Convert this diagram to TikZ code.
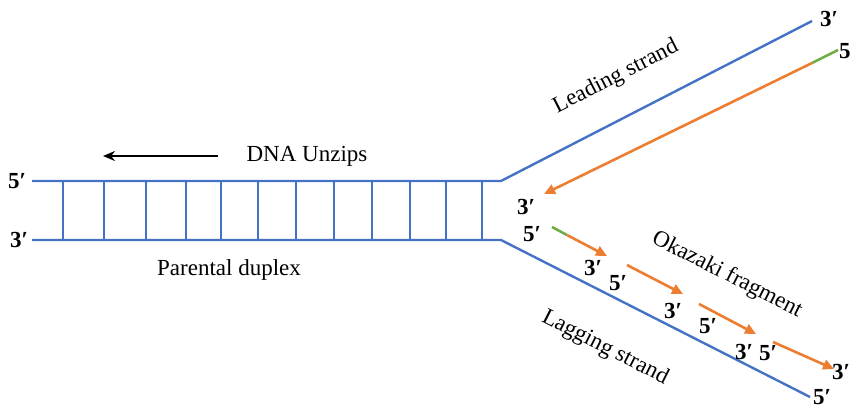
\documentclass[tikz,border=0pt]{standalone}
\usepackage{fontspec}
\setmainfont{Liberation Serif}
\usetikzlibrary{arrows.meta}
\definecolor{strandblue}{RGB}{68,114,196}
\definecolor{neworange}{RGB}{237,125,49}
\definecolor{primergreen}{RGB}{112,173,71}
\begin{document}
\begin{tikzpicture}[x=1pt,y=-1pt,
  strand/.style={draw=strandblue,line width=2.4pt},
  rung/.style={draw=strandblue,line width=2.2pt},
  newdna/.style={draw=neworange,line width=2.6pt,-{Triangle[length=11pt,width=10pt]}},
  primer/.style={draw=primergreen,line width=2.6pt},
  endlbl/.style={font=\fontsize{23}{26}\selectfont\bfseries,inner sep=0pt},
  caption/.style={font=\fontsize{23}{27}\selectfont,inner sep=0pt}]
\useasboundingbox (0,0) rectangle (851,405);
\clip (0,0) rectangle (851,405);

% parental duplex
\coordinate (t0) at (32,181);
\coordinate (b0) at (32,240);
\coordinate (tf) at (501,181);
\coordinate (bf) at (501,240);
\coordinate (tend) at (812,21);
\coordinate (bend) at (810,397);
\draw[strand] (t0) -- (tf) -- (tend);
\draw[strand] (b0) -- (bf) -- (bend);
\foreach \x in {63,104,146,186,221,258,296,334,372,410,446,482}
  \draw[rung] (\x,181) -- (\x,240);

\node[endlbl] (l5) at (17,181) {5′};
\node[endlbl] (l3) at (19,240) {3′};
\node[endlbl] (r3top) at (829,19) {3′};
\node[endlbl,anchor=west] (r5top) at (839,51) {5′};

% leading strand synthesis
\coordinate (lp0) at (838,50);
\coordinate (lp1) at (812,63);
\coordinate (lp2) at (544,194);
\draw[primer] (lp0) -- (lp1);
\draw[newdna] (lp1) -- (lp2);
\node[endlbl] (lead3) at (526,207) {3′};

% Okazaki fragments
\node[endlbl] (f1a) at (532,234) {5′};
\coordinate (p1a) at (552,227);
\coordinate (p1b) at (567,235);
\coordinate (p1c) at (607,256);
\draw[primer] (p1a) -- (p1b);
\draw[newdna] (p1b) -- (p1c);
\node[endlbl] (f1b) at (593,268) {3′};
\node[endlbl] (f2a) at (618,283) {5′};
\coordinate (p2a) at (627,265);
\coordinate (p2b) at (683,294);
\draw[newdna] (p2a) -- (p2b);
\node[endlbl] (f2b) at (673,311) {3′};
\node[endlbl] (f3a) at (708,326) {5′};
\coordinate (p3a) at (699,304);
\coordinate (p3b) at (756,334);
\draw[newdna] (p3a) -- (p3b);
\node[endlbl] (f3b) at (744,352) {3′};
\node[endlbl] (f4a) at (768,353) {5′};
\coordinate (p4a) at (773,342);
\coordinate (p4b) at (834,369);
\draw[newdna] (p4a) -- (p4b);
\node[endlbl] (f4b) at (841,372) {3′};
\node[endlbl] (lag5) at (822,397) {5′};

% captions
\node[caption,rotate=27] (leadcap) at (616,77) {Leading strand};
\node[caption,rotate=-27] (okacap) at (727,275) {Okazaki fragment};
\node[caption,rotate=-27] (lagcap) at (605,348) {Lagging strand};
\node[caption] (unzip) at (307,156) {DNA Unzips};
\node[caption] (parent) at (229,270) {Parental duplex};
\coordinate (ua) at (218,156);
\coordinate (ub) at (103,156);
\draw[line width=2.2pt,-{Stealth[length=12pt,width=10pt]}] (ua) -- (ub);
\end{tikzpicture}
\end{document}
